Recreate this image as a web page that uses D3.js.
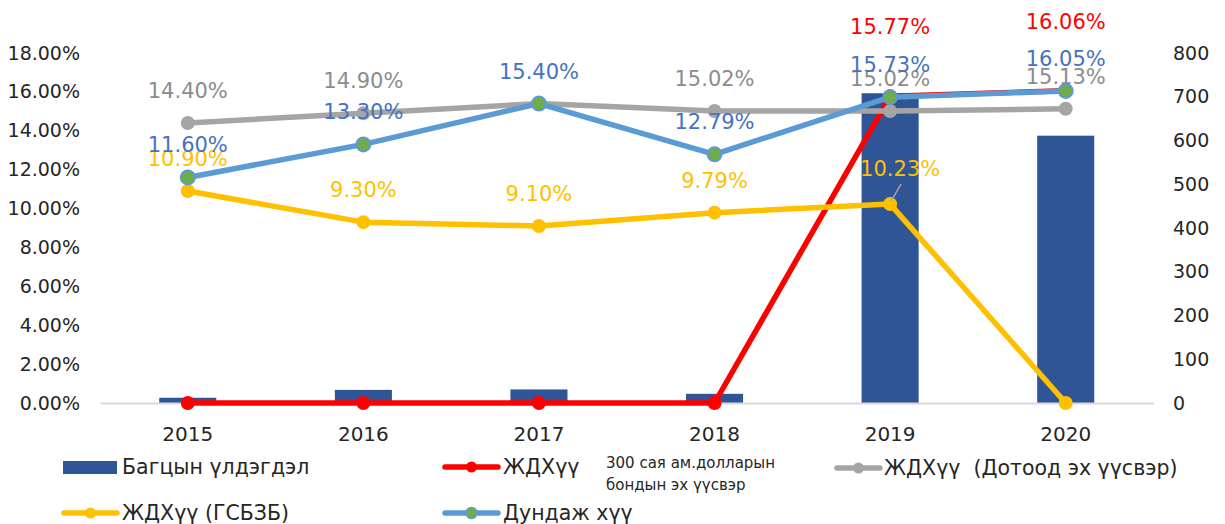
<!DOCTYPE html>
<html><head><meta charset="utf-8">
<script src="https://cdn.jsdelivr.net/npm/d3@7/dist/d3.min.js"></script>
<style>
html,body{margin:0;padding:0;background:#fff;}
svg{display:block;font-family:"DejaVu Sans",sans-serif;}
text{white-space:pre;}
</style></head>
<body><svg id="chart" width="1225" height="524"></svg>
<script>
const years = ["2015","2016","2017","2018","2019","2020"];
const portfolio = [12, 30, 31, 21, 708, 611];            // Багцын үлдэгдэл (right axis)
const bondRate = [0, 0, 0, 0, 15.77, 16.06];             // ЖДХүү 300 сая ам.долларын бондын эх үүсвэр
const domesticRate = [14.40, 14.90, 15.40, 15.02, 15.02, 15.13]; // ЖДХүү (Дотоод эх үүсвэр)
const sbRate = [10.90, 9.30, 9.10, 9.79, 10.23, 0];      // ЖДХүү (ГСБЗБ)
const avgRate = [11.60, 13.30, 15.40, 12.79, 15.73, 16.05]; // Дундаж хүү
const leftTicks = [0,2,4,6,8,10,12,14,16,18];
const rightTicks = [0,100,200,300,400,500,600,700,800];
const legendLabels = ["Багцын үлдэгдэл","ЖДХүү","ЖДХүү  (Дотоод эх үүсвэр)","ЖДХүү (ГСБЗБ)","Дундаж хүү"];
const bondNote = ["300 сая ам.долларын","бондын эх үүсвэр"];
// which data labels are shown
const bondShow = [false,false,false,false,true,true];
const domShow = [true,true,false,true,true,true];
const sbShow = [true,true,true,true,true,false];
const avgShow = [true,true,true,true,true,true];

const svg = d3.select("#chart");
const x = d3.scaleBand().domain(years).range([100,1153.5]).paddingInner(0.675).paddingOuter(0.3375);
const cx = d => x(d) + x.bandwidth()/2;
const yL = d3.scaleLinear().domain([0,18]).range([403,53]);
const yR = d3.scaleLinear().domain([0,800]).range([403,53]);

const C = {bar:"#2F5597", red:"#FF0000", gray:"#A5A5A5", yellow:"#FFC000", blue:"#5B9BD5", green:"#70AD47",
  blueLbl:"#4472C4", grayLbl:"#8C8C8C", text:"#262626"};

// left axis
const gL = svg.append("g").attr("transform","translate(80,0)")
  .call(d3.axisLeft(yL).tickValues(leftTicks).tickSize(0).tickPadding(0).tickFormat(d=>d.toFixed(2)+"%"));
gL.select(".domain").remove();
gL.selectAll("text").attr("font-size",19).attr("fill",C.text).attr("font-family","DejaVu Sans");
// right axis
const gR = svg.append("g").attr("transform","translate(1173,0)")
  .call(d3.axisRight(yR).tickValues(rightTicks).tickSize(0).tickPadding(0));
gR.select(".domain").remove();
gR.selectAll("text").attr("font-size",19).attr("fill",C.text).attr("font-family","DejaVu Sans");

// bars
svg.append("g").selectAll("rect").data(years).join("rect")
  .attr("x",d=>x(d)).attr("width",x.bandwidth())
  .attr("y",(d,i)=>yR(portfolio[i])).attr("height",(d,i)=>yR(0)-yR(portfolio[i]))
  .attr("fill",C.bar);

// bottom axis
const gB = svg.append("g").attr("transform","translate(0,403)")
  .call(d3.axisBottom(x).tickSize(0).tickSizeOuter(0).tickPadding(24));
gB.select(".domain").attr("stroke","#D9D9D9").attr("stroke-width",2);
gB.selectAll("text").attr("font-size",20).attr("fill",C.text).attr("font-family","DejaVu Sans");

const line = d3.line().x((d,i)=>cx(years[i])).y(d=>yL(d));
function series(vals,color,r,fill,stroke){
  const g = svg.append("g");
  g.append("path").datum(vals).attr("d",line).attr("fill","none").attr("stroke",color)
    .attr("stroke-width",5.5).attr("stroke-linejoin","round").attr("stroke-linecap","round");
  g.selectAll("circle").data(vals).join("circle")
    .attr("cx",(d,i)=>cx(years[i])).attr("cy",d=>yL(d)).attr("r",r)
    .attr("fill",fill).attr("stroke",stroke||"none").attr("stroke-width",stroke?2:0);
}
series(bondRate,C.red,7,C.red);
series(domesticRate,C.gray,7,C.gray);
series(sbRate,C.yellow,7,C.yellow);
series(avgRate,C.blue,7,C.green,C.blue);

// data labels
const lbl = svg.append("g").attr("font-size",21).attr("text-anchor","middle").attr("font-family","DejaVu Sans");
function labels(vals,show,color,dyFn,dxFn){
  vals.forEach((v,i)=>{
    if(!show[i]) return;
    lbl.append("text").attr("x",cx(years[i])+(dxFn?dxFn(i):0)).attr("y",yL(v)-(dyFn?dyFn(i):25))
      .attr("fill",color).text(v.toFixed(2)+"%");
  });
}
labels(domesticRate,domShow,C.grayLbl);
labels(bondRate,bondShow,C.red,()=>62);
labels(sbRate,sbShow,C.yellow,i=>i===4?28:25,i=>i===4?10:0);
labels(avgRate,avgShow,C.blueLbl);
// leader line for the shifted label
svg.append("line").attr("x1",cx(years[4])+11).attr("y1",yL(sbRate[4])-20)
  .attr("x2",cx(years[4])+1).attr("y2",yL(sbRate[4])-3).attr("stroke","#A5A5A5").attr("stroke-width",1.5);

// legend
const lg = svg.append("g").attr("font-family","DejaVu Sans").attr("fill",C.text);
function lineSwatch(x0,y0,w,color,fill,stroke){
  lg.append("line").attr("x1",x0).attr("x2",x0+w).attr("y1",y0).attr("y2",y0)
    .attr("stroke",color).attr("stroke-width",5.5).attr("stroke-linecap","round");
  lg.append("circle").attr("cx",x0+w/2).attr("cy",y0).attr("r",5.5).attr("fill",fill)
    .attr("stroke",stroke||"none").attr("stroke-width",stroke?1.5:0);
}
lg.append("rect").attr("x",63).attr("y",461).attr("width",54).attr("height",13).attr("fill",C.bar);
lg.append("text").attr("x",122).attr("y",474).attr("font-size",20.5).text(legendLabels[0]);
lineSwatch(445,467,53,C.red,C.red);
lg.append("text").attr("x",503).attr("y",474).attr("font-size",20.5).text(legendLabels[1]);
lg.append("text").attr("x",606).attr("y",468).attr("font-size",15).text(bondNote[0]);
lg.append("text").attr("x",606).attr("y",490).attr("font-size",15).text(bondNote[1]);
lineSwatch(837,468,43,C.gray,C.gray);
lg.append("text").attr("x",884).attr("y",475).attr("font-size",20.5).text(legendLabels[2]);
lineSwatch(64,513,53,C.yellow,C.yellow);
lg.append("text").attr("x",122).attr("y",520).attr("font-size",20.5).text(legendLabels[3]);
lineSwatch(445,513,53,C.blue,C.green,C.blue);
lg.append("text").attr("x",503).attr("y",520).attr("font-size",20.5).text(legendLabels[4]);
</script></body></html>
